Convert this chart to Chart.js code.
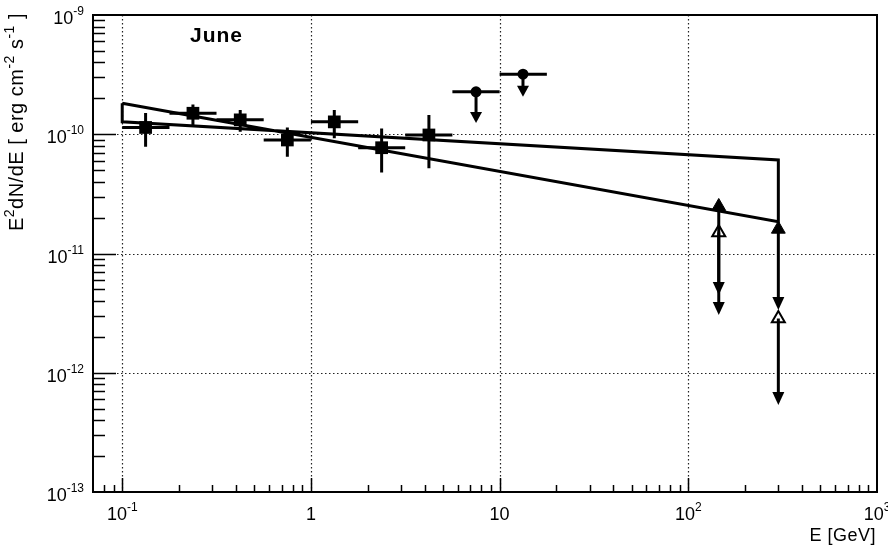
<!DOCTYPE html>
<html>
<head>
<meta charset="utf-8">
<script src="https://cdn.jsdelivr.net/npm/chart.js@4/dist/chart.umd.min.js"></script>
<style>
  html, body { margin: 0; padding: 0; background: #fff; }
</style>
</head>
<body>
<canvas id="sed" width="888" height="548"></canvas>
<script>
// Fermi bins: energy (GeV) and E^2 dN/dE (erg cm^-2 s^-1)
const binE = [0.133, 0.237, 0.422, 0.750, 1.33, 2.37, 4.22];
const binLo = [0.1, 0.178, 0.316, 0.562, 1.0, 1.78, 3.16];
const binHi = [0.178, 0.316, 0.562, 1.0, 1.78, 3.16, 5.62];
const flux = [1.14e-10, 1.50e-10, 1.32e-10, 8.95e-11, 1.27e-10, 7.71e-11, 9.86e-11];
const fluxLo = [7.87e-11, 1.18e-10, 1.05e-10, 6.49e-11, 9.25e-11, 4.77e-11, 5.18e-11];
const fluxHi = [1.51e-10, 1.78e-10, 1.60e-10, 1.14e-10, 1.60e-10, 1.12e-10, 1.45e-10];

// upper limits above 5 GeV
const ulE = [7.50, 13.3];
const ulLo = [5.62, 10.0];
const ulHi = [10.0, 17.8];
const ulF = [2.27e-10, 3.19e-10];
const ulTip = [1.24e-10, 2.06e-10];

// VHE limits (filled / open triangles)
const vheE = [145, 300];
const vheFilled = [2.48e-11, 1.60e-11];
const vheFilledTip = [4.49e-12, 3.36e-12];
const vheOpen = [1.50e-11, 2.85e-12];
const vheOpenTip = [3.05e-12, 5.37e-13];

// butterfly outline
const bowE = [0.1, 300, 300, 0.1, 0.1];
const bowF = [1.82e-10, 1.85e-11, 6.08e-11, 1.27e-10, 1.82e-10];

// axis decorations
const xMajor = [0.1, 1, 10, 100];
const xLabels = [["10", "-1"], ["1", ""], ["10", ""], ["10", "2"], ["10", "3"]];
const xLabelAt = [0.1, 1, 10, 100, 1000];
const yMajor = [1e-10, 1e-11, 1e-12];
const yLabels = [["10", "-9"], ["10", "-10"], ["10", "-11"], ["10", "-12"], ["10", "-13"]];
const yLabelAt = [1e-9, 1e-10, 1e-11, 1e-12, 1e-13];

const FONT = "'Liberation Sans', Arial, Helvetica, sans-serif";

const pts = (xs, ys) => xs.map((x, i) => ({ x, y: ys[i] }));

function drawPow(ctx, base, exp, x, y, align) {
  ctx.font = `18px ${FONT}`;
  const wb = ctx.measureText(base).width;
  ctx.font = `12px ${FONT}`;
  const we = exp ? ctx.measureText(exp).width : 0;
  const x0 = align === "right" ? x - wb - we : x - (wb + we) / 2;
  ctx.textAlign = "left";
  ctx.textBaseline = "alphabetic";
  ctx.font = `18px ${FONT}`;
  ctx.fillText(base, x0, y);
  if (exp) {
    ctx.font = `12px ${FONT}`;
    ctx.fillText(exp, x0 + wb, y - 9);
  }
}

// text with superscripts, parts = [[text, isSup], ...]
function drawRich(ctx, parts, size) {
  let x = 0;
  parts.forEach(([t, sup]) => {
    ctx.font = `${sup ? Math.round(size * 0.68) : size}px ${FONT}`;
    ctx.fillText(t, x, sup ? -size * 0.45 : 0);
    x += ctx.measureText(t).width;
  });
  return x;
}
function richWidth(ctx, parts, size) {
  let w = 0;
  parts.forEach(([t, sup]) => {
    ctx.font = `${sup ? Math.round(size * 0.68) : size}px ${FONT}`;
    w += ctx.measureText(t).width;
  });
  return w;
}

function arrowDown(ctx, x, y0, y1, hw, hl) {
  ctx.beginPath();
  ctx.moveTo(x, y0);
  ctx.lineTo(x, y1 - hl + 1);
  ctx.stroke();
  ctx.beginPath();
  ctx.moveTo(x - hw, y1 - hl);
  ctx.lineTo(x + hw, y1 - hl);
  ctx.lineTo(x, y1);
  ctx.closePath();
  ctx.fill();
}

const rootFrame = {
  id: "rootFrame",
  beforeDatasetsDraw(chart) {
    const { ctx, chartArea: a, scales: { x, y } } = chart;
    ctx.save();
    ctx.strokeStyle = "#222";
    ctx.lineWidth = 1.2;
    ctx.setLineDash([1.5, 2.5]);
    xMajor.forEach((v) => {
      const px = Math.round(x.getPixelForValue(v)) + 0.5;
      ctx.beginPath();
      ctx.moveTo(px, a.top);
      ctx.lineTo(px, a.bottom);
      ctx.stroke();
    });
    yMajor.forEach((v) => {
      const py = Math.round(y.getPixelForValue(v)) + 0.5;
      ctx.beginPath();
      ctx.moveTo(a.left, py);
      ctx.lineTo(a.right, py);
      ctx.stroke();
    });
    ctx.restore();
  },
  afterDatasetsDraw(chart) {
    const { ctx, scales: { x, y } } = chart;
    ctx.save();
    ctx.strokeStyle = "#000";
    ctx.fillStyle = "#000";
    ctx.lineWidth = 3;
    ctx.lineCap = "butt";
    // error bars of the binned points
    binE.forEach((e, i) => {
      const px = x.getPixelForValue(e), py = y.getPixelForValue(flux[i]);
      ctx.beginPath();
      ctx.moveTo(x.getPixelForValue(binLo[i]), py);
      ctx.lineTo(x.getPixelForValue(binHi[i]), py);
      ctx.moveTo(px, y.getPixelForValue(fluxLo[i]));
      ctx.lineTo(px, y.getPixelForValue(fluxHi[i]));
      ctx.stroke();
    });
    // upper limits
    ulE.forEach((e, i) => {
      const px = x.getPixelForValue(e), py = y.getPixelForValue(ulF[i]);
      ctx.beginPath();
      ctx.moveTo(x.getPixelForValue(ulLo[i]), py);
      ctx.lineTo(x.getPixelForValue(ulHi[i]), py);
      ctx.stroke();
      arrowDown(ctx, px, py, y.getPixelForValue(ulTip[i]), 6, 11);
    });
    vheE.forEach((e, i) => {
      const px = x.getPixelForValue(e);
      arrowDown(ctx, px, y.getPixelForValue(vheFilled[i]), y.getPixelForValue(vheFilledTip[i]), 6, 13);
      arrowDown(ctx, px, y.getPixelForValue(vheOpen[i]), y.getPixelForValue(vheOpenTip[i]), 6, 13);
    });
    ctx.restore();
  },
  afterDraw(chart) {
    const { ctx, chartArea: a, scales: { x, y } } = chart;
    ctx.save();
    ctx.strokeStyle = "#000";
    ctx.fillStyle = "#000";
    ctx.lineWidth = 2;
    ctx.strokeRect(a.left, a.top, a.right - a.left, a.bottom - a.top);

    // ticks
    ctx.lineWidth = 1.5;
    ctx.beginPath();
    for (let p = -2; p <= 3; p++) {
      for (let k = 1; k <= 9; k++) {
        const v = k * Math.pow(10, p);
        if (v < x.min * 1.0001 || v > x.max * 0.9999) continue;
        const px = Math.round(x.getPixelForValue(v)) + 0.5;
        ctx.moveTo(px, a.bottom);
        ctx.lineTo(px, a.bottom - (k === 1 ? 14 : 7));
      }
    }
    for (let p = -13; p <= -9; p++) {
      for (let k = 1; k <= 9; k++) {
        const v = k * Math.pow(10, p);
        if (v < y.min * 1.0001 || v > y.max * 0.9999) continue;
        const py = Math.round(y.getPixelForValue(v)) + 0.5;
        ctx.moveTo(a.left, py);
        ctx.lineTo(a.left + (k === 1 ? 23 : 12), py);
      }
    }
    ctx.stroke();

    // tick labels
    xLabelAt.forEach((v, i) => {
      drawPow(ctx, xLabels[i][0], xLabels[i][1], x.getPixelForValue(v), 520, "center");
    });
    yLabelAt.forEach((v, i) => {
      drawPow(ctx, yLabels[i][0], yLabels[i][1], 84, y.getPixelForValue(v) + 9, "right");
    });

    // axis titles
    ctx.textAlign = "left";
    ctx.textBaseline = "alphabetic";
    ctx.letterSpacing = "0.5px";
    ctx.font = `18px ${FONT}`;
    const xt = "E [GeV]";
    ctx.fillText(xt, 876 - ctx.measureText(xt).width, 541);

    const ytParts = [["E", 0], ["2", 1], ["dN/dE [ erg cm", 0], ["-2", 1], [" s", 0], ["-1", 1], [" ]", 0]];
    const ySize = 20;
    const w = richWidth(ctx, ytParts, ySize);
    ctx.save();
    ctx.translate(23, 13 + w);
    ctx.rotate(-Math.PI / 2);
    drawRich(ctx, ytParts, ySize);
    ctx.restore();

    ctx.letterSpacing = "1px";
    ctx.font = `bold 21px ${FONT}`;
    ctx.fillText("June", 190, 42);
    ctx.restore();
  }
};

new Chart(document.getElementById("sed"), {
  type: "scatter",
  data: {
    datasets: [
      {
        label: "bins",
        data: pts(binE, flux),
        pointStyle: "rect",
        pointRadius: 9,
        backgroundColor: "#000",
        borderWidth: 0
      },
      {
        label: "upper limits",
        data: pts(ulE, ulF),
        pointStyle: "circle",
        pointRadius: 5.5,
        backgroundColor: "#000",
        borderWidth: 0
      },
      {
        label: "VHE filled",
        data: pts(vheE, vheFilled),
        pointStyle: "triangle",
        pointRadius: 8,
        backgroundColor: "#000",
        borderColor: "#000",
        borderWidth: 1
      },
      {
        label: "VHE open",
        data: pts(vheE, vheOpen),
        pointStyle: "triangle",
        pointRadius: 7.5,
        backgroundColor: "rgba(0,0,0,0)",
        borderColor: "#000",
        borderWidth: 2
      },
      {
        label: "butterfly",
        data: pts(bowE, bowF),
        showLine: true,
        pointRadius: 0,
        borderColor: "#000",
        borderWidth: 3,
        fill: false,
        tension: 0
      }
    ]
  },
  options: {
    responsive: false,
    animation: false,
    layout: { padding: { left: 93, right: 11, top: 15, bottom: 56 } },
    scales: {
      x: { type: "logarithmic", min: 0.07, max: 1000, display: false },
      y: { type: "logarithmic", min: 1e-13, max: 1e-9, display: false }
    },
    plugins: {
      legend: { display: false },
      tooltip: { enabled: false }
    }
  },
  plugins: [rootFrame]
});
</script>
</body>
</html>
